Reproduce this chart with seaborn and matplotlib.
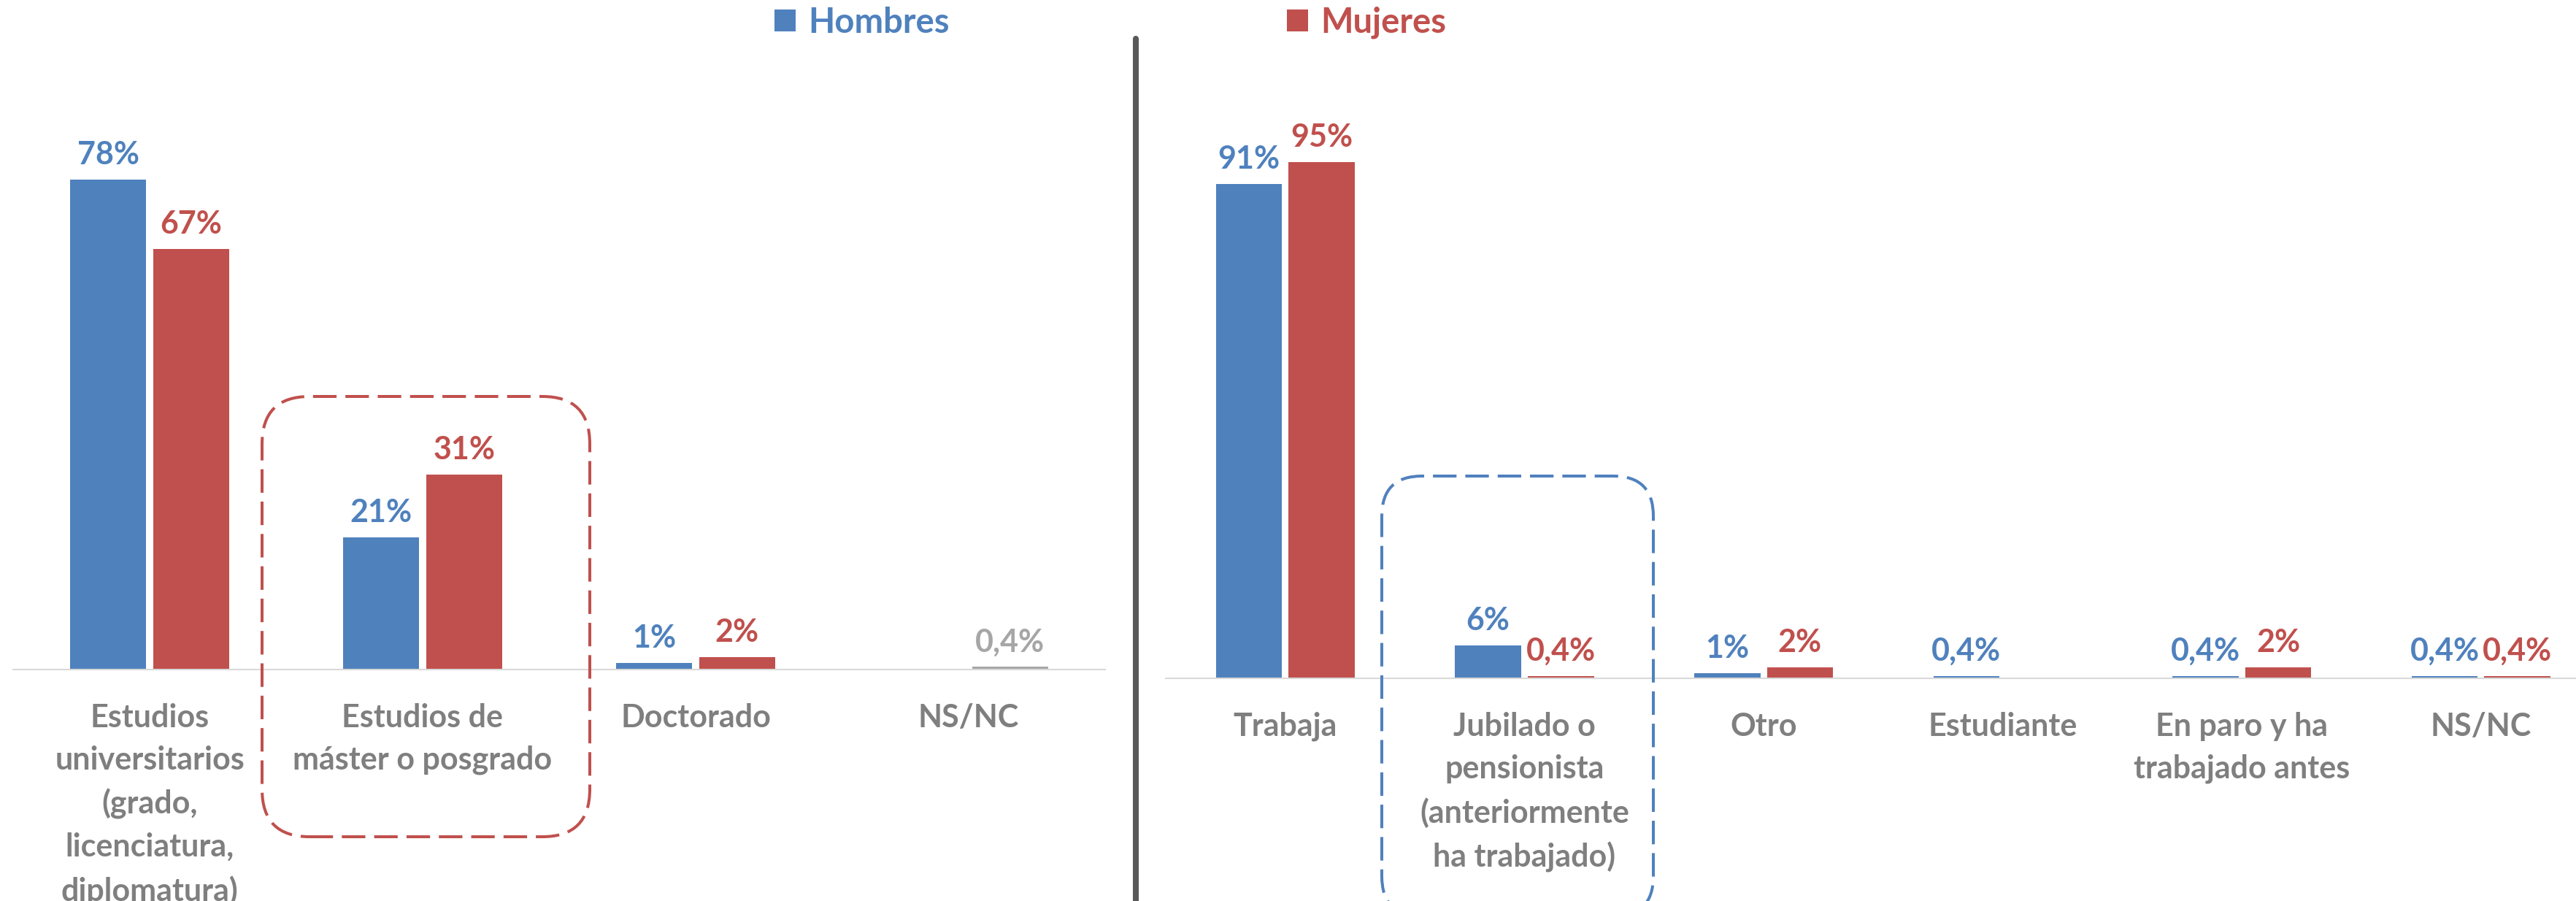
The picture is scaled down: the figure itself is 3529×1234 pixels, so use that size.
import pandas as pd
import matplotlib
matplotlib.use("Agg")
import matplotlib.pyplot as plt
import seaborn as sns
from matplotlib.patches import FancyBboxPatch
from matplotlib.lines import Line2D
from matplotlib.transforms import IdentityTransform

# Datos
series = ["Hombres", "Mujeres"]

estudios = ["Estudios\nuniversitarios\n(grado,\nlicenciatura,\ndiplomatura)",
            "Estudios de\nmáster o posgrado", "Doctorado", "NS/NC"]
estudios_hombres = [78, 21, 1, 0]
estudios_mujeres = [67, 31, 2, 0.4]

situacion = ["Trabaja", "Jubilado o\npensionista\n(anteriormente\nha trabajado)",
             "Otro", "Estudiante", "En paro y ha\ntrabajado antes", "NS/NC"]
situacion_hombres = [91, 6, 1, 0.4, 0.4, 0.4]
situacion_mujeres = [95, 0.4, 2, 0, 2, 0.4]

AZUL = "#4F81BD"
ROJO = "#C0504D"
GRIS = "#A6A6A6"
GRIS_TXT = "#7F7F7F"

sns.set_style("white")
plt.rcParams["font.family"] = ["Lato", "DejaVu Sans"]
plt.rcParams["font.weight"] = "bold"

W, H = 3530, 1234
fig = plt.figure(figsize=(W / 100, H / 100), dpi=100)

# ejes en pixeles (x0, y_base, x1, y_top) de la imagen
ax1 = fig.add_axes([18 / W, (H - 916.7) / H, (1514 - 18) / W, (916.7 - 57) / H])
ax2 = fig.add_axes([1597 / W, (H - 929) / H, (W - 1597) / W, (929 - 36) / H])


def etiqueta(v):
    if v == 0:
        return ""
    return f"{v:g}%".replace(".", ",")


def panel(ax, cats, hombres, mujeres, ylim, xlim):
    df = pd.DataFrame({
        "cat": cats * 2,
        "sexo": [series[0]] * len(cats) + [series[1]] * len(cats),
        "pct": hombres + mujeres,
    })
    sns.barplot(data=df, x="cat", y="pct", hue="sexo", hue_order=series,
                palette=[AZUL, ROJO], saturation=1, width=0.608, gap=0.09,
                errorbar=None, linewidth=0, ax=ax, legend=True)
    ax.set_ylim(*ylim)
    ax.set_xlim(*xlim)
    for cont, vals, col in zip(ax.containers, [hombres, mujeres], [AZUL, ROJO]):
        ax.bar_label(cont, labels=[etiqueta(v) for v in vals], padding=10,
                     color=col, fontsize=31, fontweight="bold")
    ax.set_xlabel("")
    ax.set_ylabel("")
    ax.set_yticks([])
    ax.tick_params(axis="x", length=0, pad=33)
    for t in ax.get_xticklabels():
        t.set_fontsize(31)
        t.set_fontweight("bold")
        t.set_color(GRIS_TXT)
        t.set_linespacing(1.55)
    for s in ["top", "left", "right"]:
        ax.spines[s].set_visible(False)
    ax.spines["bottom"].set_color("#D9D9D9")
    ax.spines["bottom"].set_linewidth(1.5)


panel(ax1, estudios, estudios_hombres, estudios_mujeres, (0, 100), (-0.5, 3.5))
panel(ax2, situacion, situacion_hombres, situacion_mujeres, (0, 120), (-0.5, 5.4))

# NS/NC de estudios en gris
ax1.containers[1].patches[3].set_facecolor(GRIS)
for t in ax1.texts:
    if t.get_text() == "0,4%":
        t.set_color(GRIS)

handles, labels = ax1.get_legend_handles_labels()
ax1.get_legend().remove()
ax2.get_legend().remove()
fig.legend(handles, labels, loc="center left", bbox_to_anchor=(1061 / W, 1 - 31 / H),
           ncol=2, frameon=False, handlelength=0.62, handleheight=0.62,
           handletextpad=0.35, columnspacing=9.8, borderpad=0, borderaxespad=0,
           labelcolor="linecolor", prop={"weight": "bold", "size": 34})

# separador
fig.add_artist(Line2D([1556, 1556], [0, H - 53], transform=IdentityTransform(),
                      color="#595959", linewidth=5.8))

# recuadros discontinuos
fig.add_artist(FancyBboxPatch((359, H - 1146), 449, 603,
                              boxstyle="round,pad=0,rounding_size=65",
                              transform=IdentityTransform(), fill=False,
                              edgecolor=ROJO, linewidth=2.9, linestyle=(0, (8, 3))))
fig.add_artist(FancyBboxPatch((1893, H - 1255), 372, 603,
                              boxstyle="round,pad=0,rounding_size=55",
                              transform=IdentityTransform(), fill=False,
                              edgecolor=AZUL, linewidth=2.9, linestyle=(0, (8, 3))))

fig.savefig("out.png", dpi=100)
plt.close()
